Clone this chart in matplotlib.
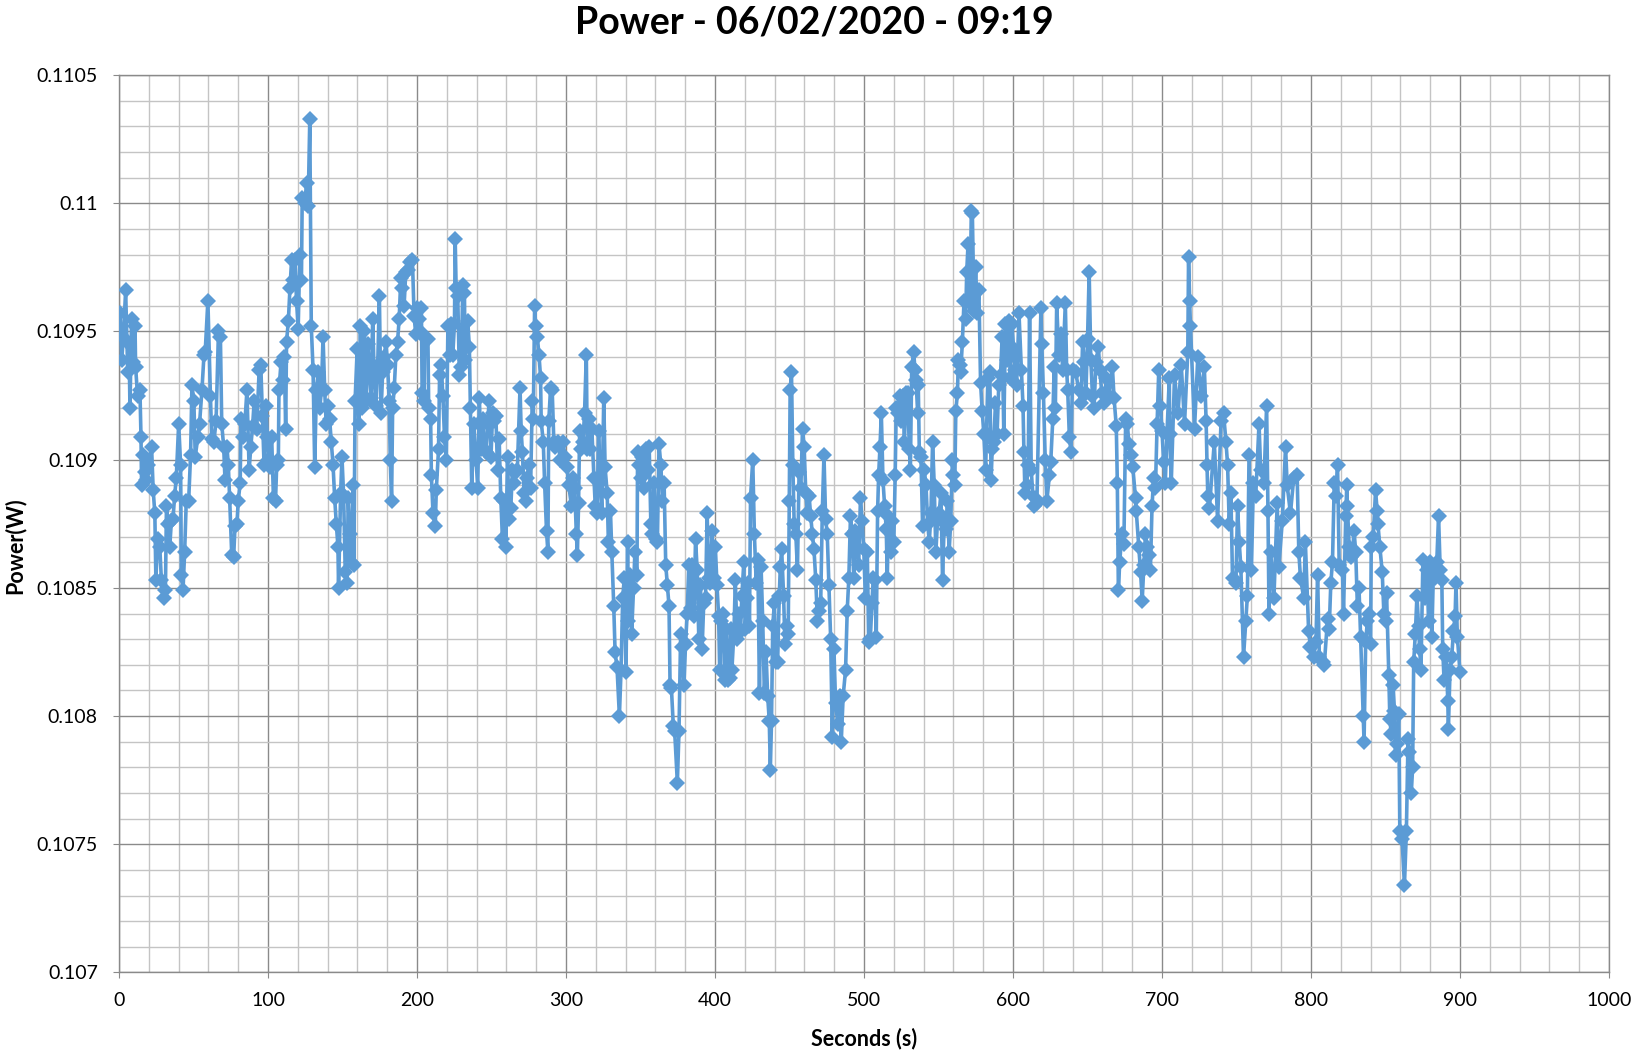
import matplotlib
matplotlib.use("Agg")
import matplotlib.pyplot as plt
from matplotlib.ticker import MultipleLocator, FuncFormatter

plt.rcParams["font.family"] = ["Lato", "DejaVu Sans"]

TITLE = "Power - 06/02/2020 - 09:19"
X_LABEL = "Seconds (s)"
Y_LABEL = "Power(W)"
LINE_COLOR = "#5B9BD5"

# time stamps (s)
SECONDS = [
    0.7, 1.8, 2.9, 4.4, 5.8, 6.7, 7.3, 8.4, 9.6, 10.7, 11.1, 12.4, 14.0, 14.7, 15.1, 16.2,
    17.3, 18.4, 19.6, 21.8, 22.9, 24.0, 24.7, 25.8, 27.3, 28.4, 30.2, 31.1, 31.8, 32.9,
    34.0, 35.1, 36.2, 37.3, 38.4, 40.0, 41.3, 41.8, 42.9, 44.0, 45.1, 46.7, 48.0, 48.9,
    50.2, 51.1, 52.9, 54.0, 55.6, 57.0, 57.8, 59.6, 61.3, 62.2, 63.6, 65.1, 66.7, 68.0,
    68.9, 70.2, 71.1, 72.4, 73.3, 74.2, 75.6, 76.9, 77.8, 79.1, 80.0, 81.3, 81.8, 82.9,
    84.4, 85.8, 87.3, 88.4, 89.6, 90.7, 92.4, 94.0, 95.1, 96.2, 97.3, 98.4, 99.6,
    100.2, 101.3, 102.4, 103.6, 105.0, 105.8, 106.9, 107.3, 108.7, 110.2, 110.9, 111.8,
    112.4, 113.6, 114.7, 115.8, 116.9, 118.0, 119.1, 120.2, 121.3, 122.4, 122.9, 124.7,
    125.8, 126.9, 128.0, 129.0, 130.2, 131.3, 132.4, 133.6, 134.7, 135.8, 136.9, 138.0,
    139.0, 140.2, 141.3, 142.4, 143.6, 144.7, 145.8, 146.9, 147.3, 148.7, 149.6, 150.7,
    151.8, 153.0, 153.8, 154.7, 155.8, 157.0, 157.6, 158.4, 159.8, 160.9, 162.0, 162.9,
    163.6, 164.7, 165.8, 166.9, 168.0, 169.1, 170.2, 171.3, 172.4, 173.6, 174.7, 175.8,
    176.9, 178.0, 179.1, 180.2, 181.3, 182.0, 182.9, 183.6, 184.7, 185.8, 186.9, 188.0,
    189.1, 190.2, 191.3, 192.4, 193.6, 195.3, 196.9, 198.0, 199.1,
    200.2, 201.0, 201.9, 202.9, 203.4, 204.7, 205.1, 206.2, 207.3, 207.8, 209.1, 209.6,
    210.7, 212.2, 212.9, 214.4, 215.1, 216.2, 217.3, 218.4, 219.6, 220.7, 221.8, 222.9,
    224.0, 225.1, 225.6, 226.2, 227.3, 228.4, 229.6, 230.7, 231.8, 232.2, 232.9, 234.0,
    235.1, 235.8, 236.7, 238.0, 239.6, 240.7, 241.8, 242.9, 244.0, 245.1, 246.2, 247.3,
    248.4, 249.6, 250.7, 251.8, 252.9, 254.0, 255.1, 256.2, 257.3, 258.4, 259.6, 260.7,
    261.8, 262.9, 264.0, 265.1, 266.2, 267.3, 269.1, 269.9, 270.7, 271.8, 272.9, 274.0,
    275.1, 276.2, 277.3, 278.0, 278.9, 279.6, 280.7, 281.8, 282.9, 283.3, 284.7, 285.6,
    286.9, 287.8, 288.4, 289.6, 290.7, 291.8, 292.9, 294.4, 296.2, 298.0, 299.3,
    300.7, 301.8, 303.6, 304.7, 305.8, 306.9, 307.6, 308.4, 309.1, 310.2, 311.3, 312.4,
    313.6, 314.2, 315.1, 316.4, 317.3, 318.7, 319.6, 320.9, 321.8, 323.1, 324.0, 325.3,
    326.2, 327.6, 328.4, 329.8, 330.7, 332.0, 332.9, 334.2, 335.8, 336.9, 338.0, 339.1,
    340.2, 341.3, 341.8, 343.1, 344.0, 345.3, 346.2, 347.6, 348.0, 349.1, 350.2, 351.3,
    352.4, 353.6, 354.7, 355.8, 356.9, 358.0, 359.1, 360.2, 361.3, 362.4, 363.6, 364.7,
    365.8, 366.9, 368.0, 369.1, 369.8, 370.7, 372.0, 372.9, 374.7, 375.8, 376.9, 378.0,
    379.1, 380.2, 381.3, 382.4, 383.6, 384.7, 385.8, 386.9, 388.0, 389.1, 390.2, 391.3,
    392.4, 393.6, 394.7, 395.8, 396.9, 398.0, 399.1,
    400.2, 401.3, 402.4, 403.1, 404.2, 405.3, 406.4, 407.6, 408.7, 409.8, 410.4, 411.3,
    412.7, 413.6, 414.9, 415.8, 417.1, 418.0, 419.3, 420.2, 421.6, 422.4, 423.1, 423.8,
    425.3, 426.4, 427.6, 428.7, 429.8, 430.9, 432.0, 433.1, 434.2, 435.3, 436.4, 437.1,
    437.9, 438.7, 439.8, 440.9, 442.0, 443.1, 443.8, 444.7, 446.0, 446.9, 448.2, 449.1,
    449.8, 450.4, 451.3, 452.2, 453.1, 454.2, 455.3, 456.4, 457.6, 458.7, 459.8, 460.9,
    462.0, 463.1, 464.2, 465.3, 466.4, 467.6, 468.7, 469.8, 470.9, 472.0, 473.1, 474.2,
    475.3, 476.4, 477.6, 478.7, 479.8, 480.9, 482.4, 483.8, 484.7, 486.0, 487.6, 488.7,
    489.8, 490.9, 492.0, 493.1, 494.2, 495.3, 496.4, 497.6, 498.7, 499.8,
    500.9, 502.2, 503.1, 504.2, 505.3, 506.2, 507.1, 508.2, 509.1, 509.8, 510.7, 511.6,
    512.7, 513.8, 514.9, 515.6, 516.4, 517.8, 518.7, 520.0, 520.9, 521.6, 522.7, 523.8,
    524.9, 526.0, 527.1, 528.2, 529.3, 530.4, 531.1, 532.0, 533.3, 534.2, 534.9, 536.0,
    536.4, 537.1, 538.2, 539.3, 540.4, 541.6, 542.7, 543.8, 544.9, 546.0, 547.1, 548.2,
    549.3, 550.4, 551.6, 552.7, 553.8, 554.9, 556.0, 557.1, 558.2, 559.3, 560.0, 560.9,
    561.6, 562.7, 563.3, 564.4, 564.9, 566.0, 567.1, 568.2, 568.9, 569.8, 571.1, 572.0,
    572.7, 573.8, 574.9, 576.0, 577.1, 578.2, 579.3, 580.4, 581.6, 582.2, 583.1, 584.4,
    585.3, 586.0, 587.1, 588.2, 589.3, 590.4, 591.6, 592.7, 593.8, 594.9, 596.0, 597.1,
    598.2, 599.3, 600.4,
    601.6, 602.4, 604.0, 605.6, 606.7, 607.3, 608.0, 609.1, 610.2, 611.1, 612.2, 613.8,
    614.9, 616.0, 618.7, 619.3, 620.4, 621.6, 622.7, 624.4, 625.3, 626.7, 627.6, 628.4,
    629.3, 630.7, 632.2, 633.3, 635.1, 636.0, 636.7, 637.8, 638.9, 640.0, 642.2, 644.0,
    645.6, 646.7, 647.8, 648.9, 650.0, 651.1, 652.2, 653.3, 654.4, 655.6, 657.3, 658.2,
    659.6, 661.1, 662.7, 664.4, 666.7, 667.8, 669.3, 670.0, 670.7, 671.6, 673.0, 674.4,
    675.6, 676.7, 677.8, 678.9, 680.4, 682.2, 682.7, 684.4, 685.6, 686.7, 687.8, 688.9,
    690.0, 691.1, 692.2, 693.3, 694.4, 695.6, 696.7, 697.8, 698.9, 700.0, 701.1, 702.2,
    703.3, 704.9,
    705.1, 706.2, 708.4, 710.7, 712.9, 715.1, 717.3, 717.8, 718.5, 719.1, 721.8, 724.0,
    726.2, 728.4, 729.6, 730.2, 730.7, 731.8, 735.1, 737.3, 739.6, 741.3, 742.9, 744.0,
    745.1, 746.2, 747.3, 749.6, 750.7, 751.8, 752.9, 754.7, 756.2, 757.3, 758.4, 760.0,
    761.3, 762.9, 765.1, 766.2, 768.4, 770.2, 771.1, 771.8, 772.9, 775.1, 777.3, 778.4,
    780.7, 782.9, 784.0, 786.2, 788.4, 790.7, 791.8, 792.9, 795.1, 796.2, 798.4, 799.6,
    801.8, 803.3,
    804.4, 805.6, 807.8, 808.9, 811.1, 812.2, 813.3, 814.4, 815.6, 816.7, 817.8, 818.9,
    821.1, 821.8, 823.3, 824.0, 824.4, 825.6, 826.7, 827.8, 828.9, 830.0, 831.1, 832.2,
    833.3, 835.1, 835.6, 836.7, 837.8, 838.9, 840.0, 840.4, 841.8, 843.3, 844.4, 844.9,
    846.2, 847.8, 848.9, 850.0, 850.7, 852.2, 852.9, 853.8, 855.1, 856.0, 856.7, 857.8,
    858.9, 859.6, 861.1, 862.7, 864.0, 865.1, 866.0, 867.3, 868.2, 868.9, 870.0, 871.1,
    872.2, 872.9, 873.8, 875.1, 876.7, 877.8, 878.9, 880.0, 881.1, 882.2, 883.3, 884.4,
    885.6, 886.7, 887.8, 888.4, 889.3, 890.7, 891.8, 892.2, 893.3, 894.4, 895.6, 896.7,
    897.3, 898.2, 900.0,
]

# power (W), same order as SECONDS
POWER = [
    0.10957, 0.10939, 0.10948, 0.10966, 0.10934, 0.10945, 0.10920, 0.10955, 0.10938, 0.10952,
    0.10936, 0.10925, 0.10927, 0.10909, 0.10890, 0.10902, 0.10895, 0.10892, 0.10898, 0.10905,
    0.10888, 0.10879, 0.10853, 0.10869, 0.10866, 0.10853, 0.10846, 0.10849, 0.10882, 0.10875,
    0.10866, 0.10876, 0.10877, 0.10886, 0.10893, 0.10914, 0.10898, 0.10855, 0.10849, 0.10864,
    0.10884, 0.10884, 0.10902, 0.10929, 0.10923, 0.10901, 0.10909, 0.10914, 0.10927, 0.10941,
    0.10942, 0.10962, 0.10925, 0.10908, 0.10907, 0.10915, 0.10950, 0.10948, 0.10914, 0.10905,
    0.10892, 0.10905, 0.10898, 0.10885, 0.10863, 0.10862, 0.10874, 0.10875, 0.10884, 0.10891,
    0.10916, 0.10909, 0.10914, 0.10927, 0.10896, 0.10905, 0.10913, 0.10923, 0.10912, 0.10935,
    0.10937, 0.10917, 0.10898, 0.10921, 0.10909,
    0.10900, 0.10897, 0.10909, 0.10885, 0.10884, 0.10898, 0.10900, 0.10927, 0.10938, 0.10931,
    0.10940, 0.10912, 0.10946, 0.10954, 0.10967, 0.10978, 0.10970, 0.10978, 0.10962, 0.10951,
    0.10980, 0.10970, 0.11002, 0.11000, 0.11008, 0.10999, 0.11033, 0.10952, 0.10935, 0.10897,
    0.10927, 0.10934, 0.10920, 0.10927, 0.10948, 0.10927, 0.10914, 0.10921, 0.10916, 0.10907,
    0.10898, 0.10885, 0.10875, 0.10866, 0.10850, 0.10887, 0.10901, 0.10886, 0.10856, 0.10852,
    0.10885, 0.10871, 0.10860, 0.10890, 0.10859, 0.10923, 0.10943, 0.10914, 0.10952, 0.10920,
    0.10943, 0.10950, 0.10923, 0.10945, 0.10935, 0.10924, 0.10955, 0.10931, 0.10921, 0.10937,
    0.10964, 0.10918, 0.10934, 0.10940, 0.10946, 0.10937, 0.10923, 0.10900, 0.10884, 0.10920,
    0.10928, 0.10941, 0.10946, 0.10955, 0.10971, 0.10967, 0.10960, 0.10973, 0.10974, 0.10977,
    0.10978, 0.10956, 0.10949,
    0.10959, 0.10955, 0.10950, 0.10959, 0.10926, 0.10923, 0.10948, 0.10947, 0.10947, 0.10920,
    0.10916, 0.10894, 0.10879, 0.10874, 0.10888, 0.10904, 0.10933, 0.10937, 0.10925, 0.10909,
    0.10900, 0.10952, 0.10941, 0.10953, 0.10941, 0.10953, 0.10986, 0.10967, 0.10964, 0.10933,
    0.10936, 0.10968, 0.10965, 0.10939, 0.10944, 0.10954, 0.10944, 0.10920, 0.10889, 0.10914,
    0.10900, 0.10889, 0.10924, 0.10904, 0.10916, 0.10904, 0.10903, 0.10914, 0.10923, 0.10901,
    0.10918, 0.10915, 0.10917, 0.10896, 0.10908, 0.10885, 0.10869, 0.10884, 0.10866, 0.10901,
    0.10877, 0.10881, 0.10896, 0.10891, 0.10895, 0.10896, 0.10928, 0.10911, 0.10903, 0.10887,
    0.10884, 0.10893, 0.10898, 0.10889, 0.10923, 0.10916, 0.10960, 0.10952, 0.10948, 0.10941,
    0.10932, 0.10915, 0.10907, 0.10891, 0.10872, 0.10864, 0.10915, 0.10928, 0.10927, 0.10907,
    0.10905, 0.10907, 0.10900, 0.10907, 0.10901,
    0.10897, 0.10890, 0.10882, 0.10893, 0.10889, 0.10871, 0.10863, 0.10883, 0.10911, 0.10904,
    0.10907, 0.10918, 0.10941, 0.10904, 0.10916, 0.10904, 0.10912, 0.10893, 0.10882, 0.10879,
    0.10911, 0.10891, 0.10879, 0.10924, 0.10897, 0.10887, 0.10868, 0.10880, 0.10864, 0.10843,
    0.10825, 0.10819, 0.10800, 0.10818, 0.10846, 0.10854, 0.10817, 0.10868, 0.10837, 0.10855,
    0.10832, 0.10850, 0.10864, 0.10855, 0.10903, 0.10898, 0.10893, 0.10901, 0.10889, 0.10904,
    0.10896, 0.10905, 0.10875, 0.10871, 0.10891, 0.10869, 0.10868, 0.10906, 0.10898, 0.10884,
    0.10891, 0.10859, 0.10851, 0.10843, 0.10812, 0.10811, 0.10796, 0.10794, 0.10774, 0.10794,
    0.10832, 0.10827, 0.10812, 0.10828, 0.10840, 0.10859, 0.10842, 0.10859, 0.10839, 0.10869,
    0.10857, 0.10830, 0.10851, 0.10826, 0.10844, 0.10846, 0.10879, 0.10854, 0.10852, 0.10872,
    0.10854,
    0.10866, 0.10851, 0.10839, 0.10818, 0.10837, 0.10840, 0.10814, 0.10834, 0.10814, 0.10815,
    0.10834, 0.10818, 0.10833, 0.10853, 0.10830, 0.10840, 0.10833, 0.10847, 0.10860, 0.10834,
    0.10846, 0.10852, 0.10835, 0.10885, 0.10900, 0.10871, 0.10852, 0.10861, 0.10809, 0.10858,
    0.10837, 0.10809, 0.10825, 0.10808, 0.10798, 0.10779, 0.10798, 0.10835, 0.10844, 0.10821,
    0.10821, 0.10847, 0.10858, 0.10865, 0.10847, 0.10828, 0.10835, 0.10832, 0.10884, 0.10927,
    0.10934, 0.10898, 0.10875, 0.10871, 0.10857, 0.10895, 0.10889, 0.10912, 0.10905, 0.10887,
    0.10879, 0.10886, 0.10878, 0.10871, 0.10865, 0.10853, 0.10837, 0.10841, 0.10844, 0.10880,
    0.10902, 0.10877, 0.10871, 0.10851, 0.10830, 0.10792, 0.10826, 0.10805, 0.10797, 0.10808,
    0.10790, 0.10808, 0.10818, 0.10841, 0.10854, 0.10878, 0.10871, 0.10854, 0.10872, 0.10865,
    0.10859, 0.10885, 0.10876, 0.10865,
    0.10846, 0.10864, 0.10829, 0.10830, 0.10844, 0.10854, 0.10853, 0.10831, 0.10880, 0.10894,
    0.10905, 0.10918, 0.10892, 0.10882, 0.10873, 0.10854, 0.10878, 0.10864, 0.10876, 0.10868,
    0.10894, 0.10920, 0.10918, 0.10925, 0.10915, 0.10925, 0.10907, 0.10926, 0.10926, 0.10904,
    0.10896, 0.10936, 0.10942, 0.10935, 0.10931, 0.10918, 0.10929, 0.10903, 0.10901, 0.10874,
    0.10896, 0.10890, 0.10875, 0.10868, 0.10879, 0.10907, 0.10890, 0.10864, 0.10876, 0.10879,
    0.10887, 0.10853, 0.10876, 0.10873, 0.10884, 0.10864, 0.10876, 0.10900, 0.10894, 0.10890,
    0.10919, 0.10926, 0.10939, 0.10937, 0.10934, 0.10946, 0.10962, 0.10955, 0.10973, 0.10984,
    0.10961, 0.10997, 0.10996, 0.10958, 0.10975, 0.10957, 0.10966, 0.10930, 0.10919, 0.10910,
    0.10896, 0.10910, 0.10932, 0.10934, 0.10892, 0.10904, 0.10907, 0.10922, 0.10910, 0.10929,
    0.10933, 0.10948, 0.10910, 0.10953, 0.10939, 0.10954, 0.10932, 0.10953, 0.10943,
    0.10935, 0.10929, 0.10957, 0.10935, 0.10921, 0.10903, 0.10887, 0.10890, 0.10898, 0.10957,
    0.10896, 0.10882, 0.10885, 0.10883, 0.10959, 0.10945, 0.10926, 0.10900, 0.10884, 0.10894,
    0.10899, 0.10916, 0.10936, 0.10920, 0.10961, 0.10941, 0.10949, 0.10935, 0.10961, 0.10935,
    0.10927, 0.10909, 0.10903, 0.10935, 0.10934, 0.10927, 0.10922, 0.10946, 0.10938, 0.10926,
    0.10947, 0.10973, 0.10939, 0.10925, 0.10920, 0.10938, 0.10944, 0.10935, 0.10926, 0.10922,
    0.10932, 0.10925, 0.10936, 0.10924, 0.10913, 0.10891, 0.10849, 0.10860, 0.10871, 0.10867,
    0.10916, 0.10914, 0.10906, 0.10902, 0.10897, 0.10885, 0.10880, 0.10866, 0.10856, 0.10845,
    0.10859, 0.10871, 0.10866, 0.10863, 0.10857, 0.10882, 0.10893, 0.10889, 0.10914, 0.10935,
    0.10921, 0.10911, 0.10899, 0.10891, 0.10910, 0.10932,
    0.10910, 0.10891, 0.10933, 0.10918, 0.10937, 0.10914, 0.10942, 0.10979, 0.10962, 0.10952,
    0.10912, 0.10940, 0.10925, 0.10936, 0.10915, 0.10898, 0.10886, 0.10881, 0.10907, 0.10876,
    0.10915, 0.10918, 0.10907, 0.10898, 0.10875, 0.10887, 0.10854, 0.10852, 0.10882, 0.10868,
    0.10858, 0.10823, 0.10837, 0.10847, 0.10902, 0.10857, 0.10891, 0.10886, 0.10914, 0.10896,
    0.10891, 0.10921, 0.10880, 0.10840, 0.10864, 0.10846, 0.10883, 0.10858, 0.10876, 0.10905,
    0.10890, 0.10879, 0.10893, 0.10894, 0.10864, 0.10854, 0.10846, 0.10868, 0.10833, 0.10827,
    0.10823, 0.10829,
    0.10855, 0.10823, 0.10821, 0.10820, 0.10838, 0.10834, 0.10852, 0.10860, 0.10891, 0.10886,
    0.10898, 0.10859, 0.10857, 0.10840, 0.10878, 0.10890, 0.10882, 0.10866, 0.10862, 0.10864,
    0.10872, 0.10864, 0.10843, 0.10850, 0.10831, 0.10800, 0.10790, 0.10829, 0.10837, 0.10840,
    0.10828, 0.10866, 0.10870, 0.10888, 0.10880, 0.10875, 0.10866, 0.10856, 0.10840, 0.10837,
    0.10848, 0.10816, 0.10799, 0.10793, 0.10812, 0.10802, 0.10785, 0.10789, 0.10801, 0.10755,
    0.10752, 0.10734, 0.10755, 0.10791, 0.10786, 0.10770, 0.10780, 0.10821, 0.10832, 0.10847,
    0.10835, 0.10826, 0.10818, 0.10861, 0.10846, 0.10857, 0.10837, 0.10860, 0.10831, 0.10858,
    0.10854, 0.10860, 0.10878, 0.10857, 0.10853, 0.10826, 0.10814, 0.10823, 0.10806, 0.10795,
    0.10818, 0.10823, 0.10833, 0.10839, 0.10852, 0.10831, 0.10817,
]

X_MIN, X_MAX = 0, 1000
Y_MIN, Y_MAX = 0.107, 0.1105


def fmt_general(v, pos):
    # like Excel "General": no trailing zeros
    return f"{v:g}"


def main() -> None:
    fig = plt.figure(figsize=(16.38, 10.55), dpi=100)
    ax = fig.add_axes([0.0727, 0.0782, 0.9096, 0.8507])

    ax.plot(SECONDS, POWER, color=LINE_COLOR, linewidth=2.6,
            marker="D", markersize=8.5, markeredgewidth=0, zorder=3)

    ax.set_xlim(X_MIN, X_MAX)
    ax.set_ylim(Y_MIN, Y_MAX)

    ax.xaxis.set_major_locator(MultipleLocator(100))
    ax.xaxis.set_minor_locator(MultipleLocator(20))
    ax.yaxis.set_major_locator(MultipleLocator(0.0005))
    ax.yaxis.set_minor_locator(MultipleLocator(0.0001))
    ax.yaxis.set_major_formatter(FuncFormatter(fmt_general))

    ax.grid(which="major", color="#8a8a8a", linewidth=1.0, zorder=0)
    ax.grid(which="minor", color="#c4c4c4", linewidth=1.0, zorder=0)
    ax.set_axisbelow(True)

    for side in ["left", "bottom", "top", "right"]:
        ax.spines[side].set_color("#8a8a8a")
        ax.spines[side].set_linewidth(1.0)

    ax.tick_params(which="major", length=4.3, color="#8a8a8a", labelsize=14,
                   labelcolor="black")
    ax.tick_params(axis="x", which="major", pad=10)
    ax.tick_params(axis="y", which="major", pad=11)
    ax.tick_params(which="minor", length=0)

    fig.text(0.5275, 0.016, X_LABEL, fontsize=15.5, fontweight="bold",
             ha="center", va="center")
    fig.text(0.009, 0.483, Y_LABEL, rotation=90, fontsize=15.5, fontweight="bold",
             ha="center", va="center")
    fig.text(0.497, 0.979, TITLE, fontsize=27, fontweight="bold",
             ha="center", va="center")

    fig.savefig("out.png", dpi=100, facecolor="white")
    plt.close(fig)


if __name__ == "__main__":
    main()
